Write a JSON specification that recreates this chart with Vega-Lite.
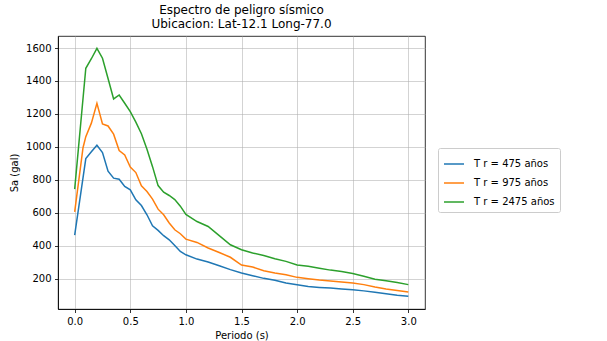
{
  "$schema": "https://vega.github.io/schema/vega-lite/v6.json",
  "width": 367,
  "height": 273,
  "autosize": {"type": "none"},
  "padding": {"left": 58, "top": 36, "right": 182, "bottom": 32},
  "background": "white",
  "title": {
    "text": ["Espectro de peligro sísmico", "Ubicacion: Lat-12.1 Long-77.0"],
    "anchor": "middle",
    "font": "DejaVu Sans",
    "fontSize": 12,
    "fontWeight": "normal",
    "color": "#000000",
    "lineHeight": 14,
    "offset": 5
  },
  "data": {
    "values": [
      {"T": 0.0, "Sa": 465, "s": "T r = 475 años"},
      {"T": 0.1, "Sa": 929, "s": "T r = 475 años"},
      {"T": 0.15, "Sa": 970, "s": "T r = 475 años"},
      {"T": 0.2, "Sa": 1010, "s": "T r = 475 años"},
      {"T": 0.25, "Sa": 966, "s": "T r = 475 años"},
      {"T": 0.3, "Sa": 853, "s": "T r = 475 años"},
      {"T": 0.35, "Sa": 810, "s": "T r = 475 años"},
      {"T": 0.4, "Sa": 804, "s": "T r = 475 años"},
      {"T": 0.45, "Sa": 760, "s": "T r = 475 años"},
      {"T": 0.5, "Sa": 739, "s": "T r = 475 años"},
      {"T": 0.55, "Sa": 679, "s": "T r = 475 años"},
      {"T": 0.6, "Sa": 644, "s": "T r = 475 años"},
      {"T": 0.65, "Sa": 588, "s": "T r = 475 años"},
      {"T": 0.7, "Sa": 521, "s": "T r = 475 años"},
      {"T": 0.75, "Sa": 493, "s": "T r = 475 años"},
      {"T": 0.8, "Sa": 461, "s": "T r = 475 años"},
      {"T": 0.85, "Sa": 436, "s": "T r = 475 años"},
      {"T": 0.9, "Sa": 402, "s": "T r = 475 años"},
      {"T": 0.95, "Sa": 365, "s": "T r = 475 años"},
      {"T": 1.0, "Sa": 345, "s": "T r = 475 años"},
      {"T": 1.1, "Sa": 319, "s": "T r = 475 años"},
      {"T": 1.2, "Sa": 301, "s": "T r = 475 años"},
      {"T": 1.3, "Sa": 279, "s": "T r = 475 años"},
      {"T": 1.4, "Sa": 255, "s": "T r = 475 años"},
      {"T": 1.5, "Sa": 234, "s": "T r = 475 años"},
      {"T": 1.6, "Sa": 218, "s": "T r = 475 años"},
      {"T": 1.7, "Sa": 202, "s": "T r = 475 años"},
      {"T": 1.8, "Sa": 190, "s": "T r = 475 años"},
      {"T": 1.9, "Sa": 174, "s": "T r = 475 años"},
      {"T": 2.0, "Sa": 163, "s": "T r = 475 años"},
      {"T": 2.1, "Sa": 152, "s": "T r = 475 años"},
      {"T": 2.2, "Sa": 147, "s": "T r = 475 años"},
      {"T": 2.3, "Sa": 143, "s": "T r = 475 años"},
      {"T": 2.4, "Sa": 138, "s": "T r = 475 años"},
      {"T": 2.5, "Sa": 133, "s": "T r = 475 años"},
      {"T": 2.6, "Sa": 126, "s": "T r = 475 años"},
      {"T": 2.7, "Sa": 118, "s": "T r = 475 años"},
      {"T": 2.8, "Sa": 108, "s": "T r = 475 años"},
      {"T": 2.9, "Sa": 99, "s": "T r = 475 años"},
      {"T": 3.0, "Sa": 93, "s": "T r = 475 años"},
      {"T": 0.0, "Sa": 605, "s": "T r = 975 años"},
      {"T": 0.075, "Sa": 995, "s": "T r = 975 años"},
      {"T": 0.1, "Sa": 1062, "s": "T r = 975 años"},
      {"T": 0.15, "Sa": 1144, "s": "T r = 975 años"},
      {"T": 0.2, "Sa": 1265, "s": "T r = 975 años"},
      {"T": 0.25, "Sa": 1139, "s": "T r = 975 años"},
      {"T": 0.3, "Sa": 1127, "s": "T r = 975 años"},
      {"T": 0.35, "Sa": 1077, "s": "T r = 975 años"},
      {"T": 0.4, "Sa": 978, "s": "T r = 975 años"},
      {"T": 0.45, "Sa": 951, "s": "T r = 975 años"},
      {"T": 0.5, "Sa": 877, "s": "T r = 975 años"},
      {"T": 0.55, "Sa": 844, "s": "T r = 975 años"},
      {"T": 0.6, "Sa": 764, "s": "T r = 975 años"},
      {"T": 0.65, "Sa": 729, "s": "T r = 975 años"},
      {"T": 0.7, "Sa": 683, "s": "T r = 975 años"},
      {"T": 0.75, "Sa": 622, "s": "T r = 975 años"},
      {"T": 0.8, "Sa": 588, "s": "T r = 975 años"},
      {"T": 0.85, "Sa": 538, "s": "T r = 975 años"},
      {"T": 0.9, "Sa": 497, "s": "T r = 975 años"},
      {"T": 0.95, "Sa": 473, "s": "T r = 975 años"},
      {"T": 1.0, "Sa": 440, "s": "T r = 975 años"},
      {"T": 1.1, "Sa": 420, "s": "T r = 975 años"},
      {"T": 1.2, "Sa": 386, "s": "T r = 975 años"},
      {"T": 1.3, "Sa": 359, "s": "T r = 975 años"},
      {"T": 1.4, "Sa": 330, "s": "T r = 975 años"},
      {"T": 1.5, "Sa": 283, "s": "T r = 975 años"},
      {"T": 1.6, "Sa": 271, "s": "T r = 975 años"},
      {"T": 1.7, "Sa": 248, "s": "T r = 975 años"},
      {"T": 1.8, "Sa": 234, "s": "T r = 975 años"},
      {"T": 1.9, "Sa": 224, "s": "T r = 975 años"},
      {"T": 2.0, "Sa": 208, "s": "T r = 975 años"},
      {"T": 2.1, "Sa": 200, "s": "T r = 975 años"},
      {"T": 2.2, "Sa": 192, "s": "T r = 975 años"},
      {"T": 2.3, "Sa": 186, "s": "T r = 975 años"},
      {"T": 2.4, "Sa": 180, "s": "T r = 975 años"},
      {"T": 2.5, "Sa": 174, "s": "T r = 975 años"},
      {"T": 2.6, "Sa": 164, "s": "T r = 975 años"},
      {"T": 2.7, "Sa": 150, "s": "T r = 975 años"},
      {"T": 2.8, "Sa": 138, "s": "T r = 975 años"},
      {"T": 2.9, "Sa": 128, "s": "T r = 975 años"},
      {"T": 3.0, "Sa": 119, "s": "T r = 975 años"},
      {"T": 0.0, "Sa": 744, "s": "T r = 2475 años"},
      {"T": 0.1, "Sa": 1477, "s": "T r = 2475 años"},
      {"T": 0.15, "Sa": 1535, "s": "T r = 2475 años"},
      {"T": 0.2, "Sa": 1598, "s": "T r = 2475 años"},
      {"T": 0.25, "Sa": 1538, "s": "T r = 2475 años"},
      {"T": 0.3, "Sa": 1415, "s": "T r = 2475 años"},
      {"T": 0.35, "Sa": 1291, "s": "T r = 2475 años"},
      {"T": 0.4, "Sa": 1315, "s": "T r = 2475 años"},
      {"T": 0.45, "Sa": 1265, "s": "T r = 2475 años"},
      {"T": 0.5, "Sa": 1214, "s": "T r = 2475 años"},
      {"T": 0.55, "Sa": 1150, "s": "T r = 2475 años"},
      {"T": 0.6, "Sa": 1080, "s": "T r = 2475 años"},
      {"T": 0.65, "Sa": 985, "s": "T r = 2475 años"},
      {"T": 0.7, "Sa": 880, "s": "T r = 2475 años"},
      {"T": 0.75, "Sa": 765, "s": "T r = 2475 años"},
      {"T": 0.8, "Sa": 725, "s": "T r = 2475 años"},
      {"T": 0.85, "Sa": 705, "s": "T r = 2475 años"},
      {"T": 0.9, "Sa": 680, "s": "T r = 2475 años"},
      {"T": 0.95, "Sa": 640, "s": "T r = 2475 años"},
      {"T": 1.0, "Sa": 590, "s": "T r = 2475 años"},
      {"T": 1.1, "Sa": 547, "s": "T r = 2475 años"},
      {"T": 1.2, "Sa": 517, "s": "T r = 2475 años"},
      {"T": 1.3, "Sa": 461, "s": "T r = 2475 años"},
      {"T": 1.4, "Sa": 406, "s": "T r = 2475 años"},
      {"T": 1.5, "Sa": 376, "s": "T r = 2475 años"},
      {"T": 1.6, "Sa": 356, "s": "T r = 2475 años"},
      {"T": 1.7, "Sa": 341, "s": "T r = 2475 años"},
      {"T": 1.8, "Sa": 321, "s": "T r = 2475 años"},
      {"T": 1.9, "Sa": 305, "s": "T r = 2475 años"},
      {"T": 2.0, "Sa": 283, "s": "T r = 2475 años"},
      {"T": 2.1, "Sa": 275, "s": "T r = 2475 años"},
      {"T": 2.2, "Sa": 264, "s": "T r = 2475 años"},
      {"T": 2.3, "Sa": 252, "s": "T r = 2475 años"},
      {"T": 2.4, "Sa": 243, "s": "T r = 2475 años"},
      {"T": 2.5, "Sa": 232, "s": "T r = 2475 años"},
      {"T": 2.6, "Sa": 215, "s": "T r = 2475 años"},
      {"T": 2.7, "Sa": 197, "s": "T r = 2475 años"},
      {"T": 2.8, "Sa": 188, "s": "T r = 2475 años"},
      {"T": 2.9, "Sa": 177, "s": "T r = 2475 años"},
      {"T": 3.0, "Sa": 164, "s": "T r = 2475 años"}
    ]
  },
  "mark": {"type": "line", "strokeWidth": 1.5, "clip": true},
  "encoding": {
    "x": {
      "field": "T",
      "type": "quantitative",
      "scale": {"domain": [-0.15, 3.15], "nice": false, "zero": false},
      "axis": {
        "title": "Periodo (s)",
        "values": [0, 0.5, 1, 1.5, 2, 2.5, 3],
        "format": ".1f"
      }
    },
    "y": {
      "field": "Sa",
      "type": "quantitative",
      "scale": {"domain": [16, 1673], "nice": false, "zero": false},
      "axis": {
        "title": "Sa (gal)",
        "values": [200, 400, 600, 800, 1000, 1200, 1400, 1600],
        "format": "d",
        "titlePadding": 6
      }
    },
    "color": {
      "field": "s",
      "type": "nominal",
      "sort": null,
      "scale": {
        "domain": ["T r = 475 años", "T r = 975 años", "T r = 2475 años"],
        "range": ["#1f77b4", "#ff7f0e", "#2ca02c"]
      },
      "legend": {
        "title": null,
        "orient": "none",
        "legendX": 380,
        "legendY": 112,
        "symbolType": "stroke",
        "symbolSize": 400,
        "symbolStrokeWidth": 1.5,
        "labelFont": "DejaVu Sans",
        "labelFontSize": 10,
        "labelColor": "#000000",
        "rowPadding": 3,
        "padding": 5,
        "strokeColor": "#cccccc",
        "fillColor": "white",
        "cornerRadius": 2,
        "labelOffset": 9
      }
    }
  },
  "config": {
    "view": {"stroke": "#000000", "strokeWidth": 0.8},
    "axis": {
      "labelFont": "DejaVu Sans",
      "labelFontSize": 10,
      "labelColor": "#000000",
      "titleFont": "DejaVu Sans",
      "titleFontSize": 10,
      "titleFontWeight": "normal",
      "titleColor": "#000000",
      "domainColor": "#000000",
      "domainWidth": 0.8,
      "tickColor": "#000000",
      "tickSize": 3.5,
      "tickWidth": 0.8,
      "gridColor": "#b0b0b0",
      "gridWidth": 0.8,
      "gridOpacity": 0.7,
      "labelPadding": 3.5
    },
    "axisX": {"titlePadding": 4}
  }
}
